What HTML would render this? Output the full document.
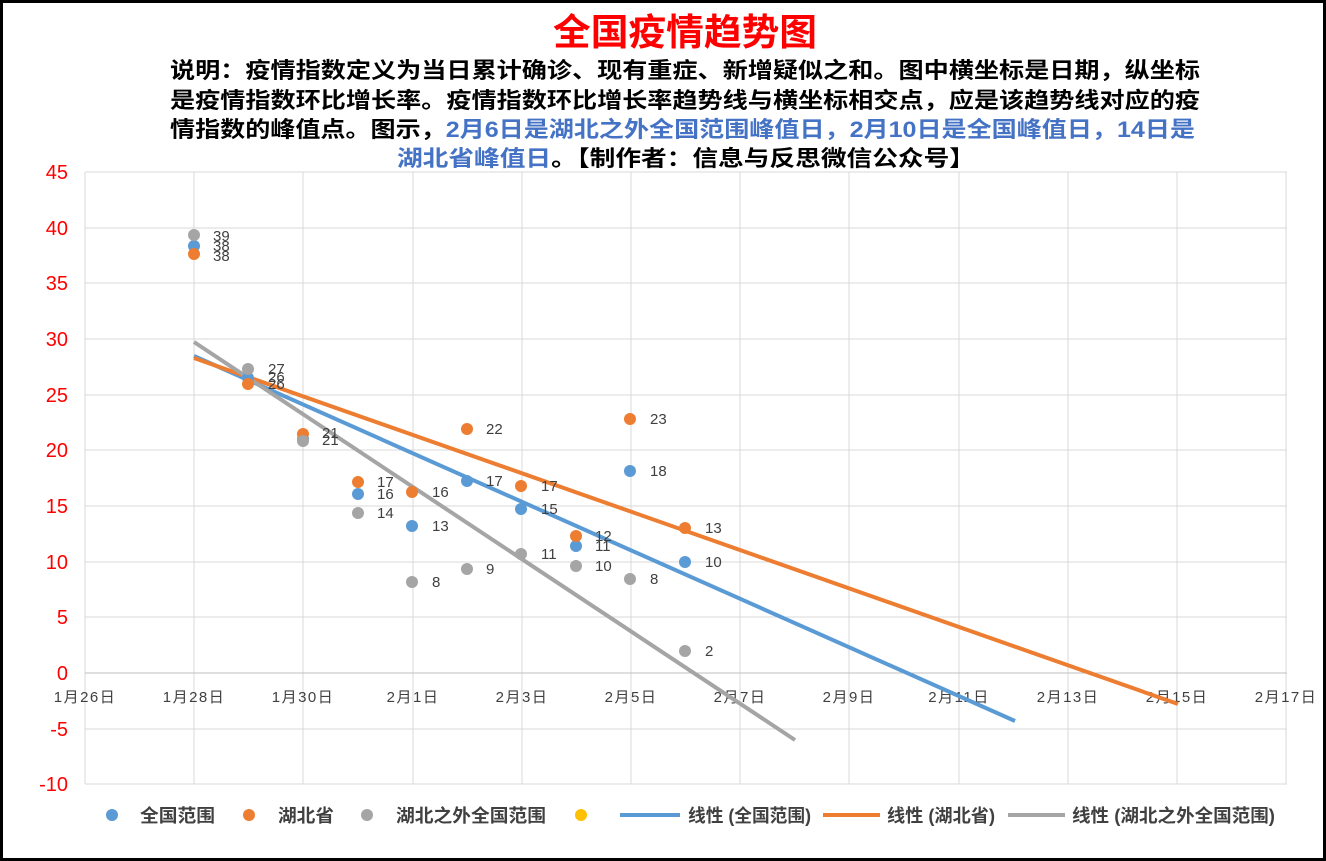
<!DOCTYPE html>
<html><head><meta charset="utf-8"><style>
html,body{margin:0;padding:0;background:#fff;}
svg{display:block;}
text{font-family:"Liberation Sans","Noto Sans CJK SC",sans-serif;}
</style></head><body>
<svg width="1326" height="861" xmlns="http://www.w3.org/2000/svg">
<rect x="1.5" y="1.5" width="1323" height="858" fill="#fff" stroke="#000" stroke-width="3"/>
<text x="685" y="45" text-anchor="middle" font-size="37" font-weight="bold" fill="#ff0000" textLength="264" lengthAdjust="spacingAndGlyphs">全国疫情趋势图</text>
<g font-size="22" font-weight="bold" fill="#000">
<text x="170" y="78" textLength="1030" lengthAdjust="spacingAndGlyphs">说明：疫情指数定义为当日累计确诊、现有重症、新增疑似之和。图中横坐标是日期，纵坐标</text>
<text x="170" y="108" textLength="1030" lengthAdjust="spacingAndGlyphs">是疫情指数环比增长率。疫情指数环比增长率趋势线与横坐标相交点，应是该趋势线对应的疫</text>
<text x="170" y="137" textLength="1025" lengthAdjust="spacingAndGlyphs">情指数的峰值点。图示，<tspan fill="#4472c4">2月6日是湖北之外全国范围峰值日，2月10日是全国峰值日，14日是</tspan></text>
<text x="397" y="166" textLength="578" lengthAdjust="spacingAndGlyphs"><tspan fill="#4472c4">湖北省峰值日</tspan>。【制作者：信息与反思微信公众号】</text>
</g>
<g stroke="#d9d9d9" stroke-width="1">
<line x1="85" y1="172" x2="1287" y2="172"/><line x1="85" y1="228" x2="1287" y2="228"/>
<line x1="85" y1="283" x2="1287" y2="283"/><line x1="85" y1="339" x2="1287" y2="339"/>
<line x1="85" y1="395" x2="1287" y2="395"/><line x1="85" y1="450" x2="1287" y2="450"/>
<line x1="85" y1="506" x2="1287" y2="506"/><line x1="85" y1="562" x2="1287" y2="562"/>
<line x1="85" y1="617" x2="1287" y2="617"/><line x1="85" y1="729" x2="1287" y2="729"/>
<line x1="85" y1="784" x2="1287" y2="784"/>
<line x1="85" y1="172" x2="85" y2="784"/><line x1="194" y1="172" x2="194" y2="784"/>
<line x1="303" y1="172" x2="303" y2="784"/><line x1="413" y1="172" x2="413" y2="784"/>
<line x1="522" y1="172" x2="522" y2="784"/><line x1="631" y1="172" x2="631" y2="784"/>
<line x1="740" y1="172" x2="740" y2="784"/><line x1="849" y1="172" x2="849" y2="784"/>
<line x1="959" y1="172" x2="959" y2="784"/><line x1="1068" y1="172" x2="1068" y2="784"/>
<line x1="1177" y1="172" x2="1177" y2="784"/><line x1="1286" y1="172" x2="1286" y2="784"/>
</g>
<line x1="85" y1="673" x2="1287" y2="673" stroke="#bfbfbf" stroke-width="1"/>
<g font-size="20" fill="#ff0000" text-anchor="end">
<text x="68" y="179">45</text><text x="68" y="235">40</text><text x="68" y="290">35</text>
<text x="68" y="346">30</text><text x="68" y="402">25</text><text x="68" y="457">20</text>
<text x="68" y="513">15</text><text x="68" y="569">10</text><text x="68" y="624">5</text>
<text x="68" y="680">0</text><text x="68" y="736">-5</text><text x="68" y="791">-10</text>
</g>
<g font-size="15" fill="#404040" text-anchor="middle" letter-spacing="1.5">
<text x="85" y="702">1月26日</text><text x="194" y="702">1月28日</text><text x="303" y="702">1月30日</text>
<text x="413" y="702">2月1日</text><text x="522" y="702">2月3日</text><text x="631" y="702">2月5日</text>
<text x="740" y="702">2月7日</text><text x="849" y="702">2月9日</text><text x="959" y="702">2月11日</text>
<text x="1068" y="702">2月13日</text><text x="1177" y="702">2月15日</text><text x="1286" y="702">2月17日</text>
</g>
<g stroke-width="4" stroke-linecap="butt">
<line x1="194" y1="356" x2="1015" y2="721" stroke="#5b9bd5"/>
<line x1="194" y1="358" x2="1178" y2="704" stroke="#ed7d31"/>
<line x1="194" y1="342" x2="795" y2="740" stroke="#a5a5a5"/>
</g>
<g fill="#5b9bd5">
<circle cx="194" cy="246" r="6"/><circle cx="248" cy="378" r="6"/><circle cx="303" cy="439" r="6"/>
<circle cx="358" cy="494" r="6"/><circle cx="412" cy="526" r="6"/><circle cx="467" cy="481" r="6"/>
<circle cx="521" cy="509" r="6"/><circle cx="576" cy="546" r="6"/><circle cx="630" cy="471" r="6"/>
<circle cx="685" cy="562" r="6"/>
</g>
<g fill="#ed7d31">
<circle cx="194" cy="254" r="6"/><circle cx="248" cy="384" r="6"/><circle cx="303" cy="434" r="6"/>
<circle cx="358" cy="482" r="6"/><circle cx="412" cy="492" r="6"/><circle cx="467" cy="429" r="6"/>
<circle cx="521" cy="486" r="6"/><circle cx="576" cy="536" r="6"/><circle cx="630" cy="419" r="6"/>
<circle cx="685" cy="528" r="6"/>
</g>
<g fill="#a5a5a5">
<circle cx="194" cy="235" r="6"/><circle cx="248" cy="369" r="6"/><circle cx="303" cy="441" r="6"/>
<circle cx="358" cy="513" r="6"/><circle cx="412" cy="582" r="6"/><circle cx="467" cy="569" r="6"/>
<circle cx="521" cy="554" r="6"/><circle cx="576" cy="566" r="6"/><circle cx="630" cy="579" r="6"/>
<circle cx="685" cy="651" r="6"/>
</g>
<g font-size="15" fill="#404040">
<text x="213" y="241">39</text><text x="213" y="251">38</text><text x="213" y="261">38</text>
<text x="268" y="374">27</text><text x="268" y="382">26</text><text x="268" y="389">26</text>
<text x="322" y="438">21</text><text x="322" y="445">21</text>
<text x="377" y="487">17</text><text x="377" y="499">16</text><text x="377" y="518">14</text>
<text x="432" y="497">16</text><text x="432" y="531">13</text><text x="432" y="587">8</text>
<text x="486" y="434">22</text><text x="486" y="486">17</text><text x="486" y="574">9</text>
<text x="541" y="491">17</text><text x="541" y="514">15</text><text x="541" y="559">11</text>
<text x="595" y="541">12</text><text x="595" y="551">11</text><text x="595" y="571">10</text>
<text x="650" y="424">23</text><text x="650" y="476">18</text><text x="650" y="584">8</text>
<text x="705" y="533">13</text><text x="705" y="567">10</text><text x="705" y="656">2</text>
</g>
<circle cx="112" cy="815" r="6" fill="#5b9bd5"/>
<circle cx="249" cy="815" r="6" fill="#ed7d31"/>
<circle cx="367" cy="815" r="6" fill="#a5a5a5"/>
<circle cx="581" cy="815" r="6" fill="#ffc000"/>
<line x1="620" y1="815" x2="680" y2="815" stroke="#5b9bd5" stroke-width="4"/>
<line x1="823" y1="815" x2="880" y2="815" stroke="#ed7d31" stroke-width="4"/>
<line x1="1008" y1="815" x2="1065" y2="815" stroke="#a5a5a5" stroke-width="4"/>
<g font-size="18" font-weight="bold" fill="#404040">
<text x="140" y="822" textLength="75" lengthAdjust="spacingAndGlyphs">全国范围</text>
<text x="278" y="822" textLength="56" lengthAdjust="spacingAndGlyphs">湖北省</text>
<text x="396" y="822" textLength="150" lengthAdjust="spacingAndGlyphs">湖北之外全国范围</text>
<text x="688" y="822" textLength="123" lengthAdjust="spacingAndGlyphs">线性 (全国范围)</text>
<text x="887" y="822" textLength="108" lengthAdjust="spacingAndGlyphs">线性 (湖北省)</text>
<text x="1072" y="822" textLength="203" lengthAdjust="spacingAndGlyphs">线性 (湖北之外全国范围)</text>
</g>
</svg>
</body></html>
